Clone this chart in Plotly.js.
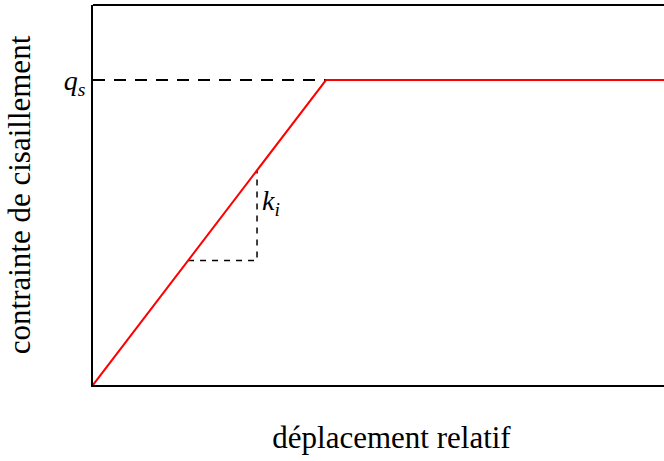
<!DOCTYPE html>
<html><head><meta charset="utf-8">
<script src="https://cdn.plot.ly/plotly-3.0.1.min.js"></script>
<style>html,body{margin:0;padding:0;background:#fff;overflow:hidden;width:664px;height:461px;}#chart{width:690px;height:461px;}</style>
</head><body><div id="chart"></div>
<script>
// Data (normalised: yield displacement = 1, q_s = 1)
const curveX = [0, 1, 2.6];
const curveY = [0, 1, 1];
const qsLineX = [0, 1];
const qsLineY = [1, 1];
const triX = [0.408, 0.704, 0.704];
const triY = [0.408, 0.408, 0.704];
const yTickVals = [1];
const yTickText = ['<i>q</i><sub><i>s</i></sub>'];
const xLabel = 'déplacement relatif';
const yLabel = 'contrainte de cisaillement';
const slopeLabel = '<i>k</i><sub><i>i</i></sub>';

const font = 'Liberation Serif, DejaVu Serif, serif';
const traces = [
  {x: qsLineX, y: qsLineY, mode: 'lines', line: {color: '#000', width: 2, dash: '12px,9px'}, hoverinfo: 'skip'},
  {x: triX, y: triY, mode: 'lines', line: {color: '#000', width: 1.5, dash: '6px,6px'}, hoverinfo: 'skip'},
  {x: curveX, y: curveY, mode: 'lines', line: {color: '#ff0000', width: 2}, hoverinfo: 'skip'}
];
const layout = {
  width: 690, height: 461,
  margin: {l: 93, r: 0, t: 5, b: 76},
  showlegend: false,
  paper_bgcolor: '#fff', plot_bgcolor: '#fff',
  font: {family: font, color: '#000', size: 28},
  xaxis: {range: [0, 2.5622], showgrid: false, zeroline: false, showticklabels: false, ticks: '',
    showline: true, linecolor: '#000', linewidth: 2, mirror: false,
    title: {text: xLabel, font: {size: 31}, standoff: 40}},
  yaxis: {range: [0, 1.246], showgrid: false, zeroline: false, tickvals: yTickVals, ticktext: yTickText,
    ticks: '', tickfont: {size: 28}, showline: true, linecolor: '#000', linewidth: 2, mirror: false,
    title: {text: yLabel, font: {size: 31}, standoff: 24}},
  shapes: [{type: 'line', xref: 'paper', yref: 'paper', x0: 0, x1: 1, y0: 1, y1: 1,
    line: {color: '#000', width: 2}}],
  annotations: [{x: 0.704, y: 0.6, xref: 'x', yref: 'y', text: slopeLabel, showarrow: false,
    xanchor: 'left', xshift: 3, font: {size: 28}}]
};
Plotly.newPlot('chart', traces, layout, {staticPlot: true, displayModeBar: false});
</script></body></html>
